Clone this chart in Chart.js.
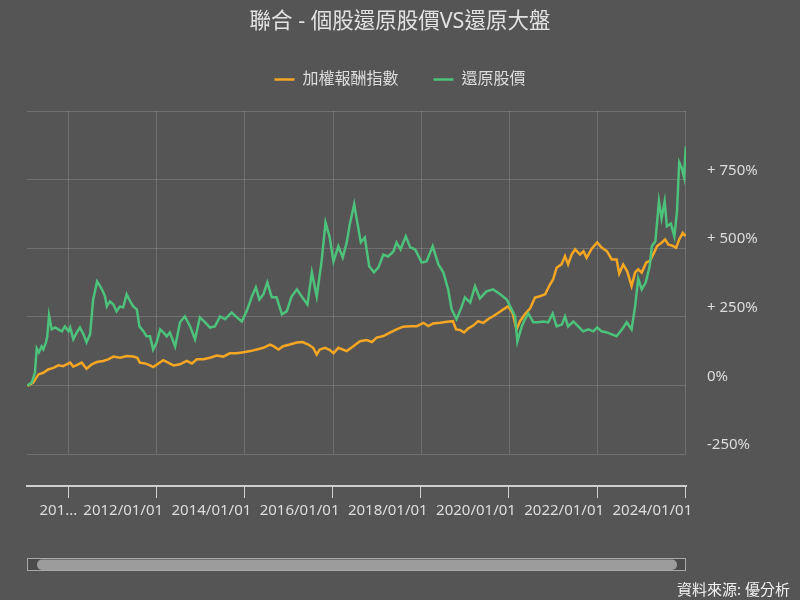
<!DOCTYPE html>
<html>
<head>
<meta charset="utf-8">
<script src="https://cdn.jsdelivr.net/npm/chart.js@4.4.1/dist/chart.umd.min.js"></script>
<style>
  html, body { margin: 0; padding: 0; background: #555555; }
  #wrap { width: 800px; height: 600px; }
</style>
</head>
<body>
<div id="wrap"><canvas id="c" width="800" height="600"></canvas></div>
<script>
const chartTitle = '聯合 - 個股還原股價VS還原大盤';
const seriesNames = ['加權報酬指數', '還原股價'];
const sourceText = '資料來源: 優分析';

// 加權報酬指數 (market total-return index), % change
const indexYears = [2009.08,2009.21,2009.33,2009.44,2009.55,2009.67,2009.78,2009.89,
  2010.05,2010.12,2010.23,2010.31,2010.42,2010.54,2010.65,2010.80,2010.91,
  2011.03,2011.18,2011.33,2011.48,2011.57,2011.63,2011.75,2011.86,2011.93,
  2012.05,2012.16,2012.27,2012.39,2012.54,2012.69,2012.81,2012.92,
  2013.07,2013.22,2013.37,2013.52,2013.67,2013.83,2013.98,
  2014.13,2014.28,2014.43,2014.58,2014.66,2014.77,2014.88,
  2015.03,2015.19,2015.32,2015.45,2015.56,2015.64,2015.71,2015.83,2015.94,
  2016.02,2016.13,2016.32,2016.47,2016.62,2016.77,2016.89,
  2017.00,2017.15,2017.30,2017.45,2017.60,2017.76,2017.91,
  2018.06,2018.17,2018.28,2018.44,2018.59,2018.73,2018.80,2018.89,2018.98,
  2019.08,2019.19,2019.30,2019.42,2019.53,2019.64,2019.76,2019.87,2019.98,
  2020.08,2020.17,2020.25,2020.36,2020.48,2020.59,2020.70,2020.82,2020.91,
  2021.00,2021.08,2021.19,2021.27,2021.34,2021.42,2021.50,2021.61,2021.69,2021.76,2021.88,
  2022.00,2022.10,2022.22,2022.33,2022.44,2022.50,2022.59,2022.68,2022.78,2022.86,2022.93,
  2023.01,2023.11,2023.20,2023.29,2023.36,2023.46,2023.54,2023.61,2023.69,2023.79,2023.86,2023.94,
  2024.01];
const indexValues = [-2,10,40,46,58,64,73,70,
  83,68,77,83,61,77,85,89,95,
  105,101,107,105,101,83,80,73,67,
  80,92,83,73,77,89,80,95,
  95,101,109,105,117,117,121,
  125,131,137,149,143,131,143,
  149,156,158,149,137,113,131,137,129,
  117,137,125,143,161,165,158,
  174,180,192,204,214,216,216,
  228,216,226,228,232,234,204,202,193,
  208,218,234,228,242,252,265,277,288,
  265,204,234,259,281,320,325,332,362,
  386,429,441,471,441,477,496,477,489,465,499,
  521,502,489,459,459,408,441,416,362,412,423,
  411,447,455,484,508,520,532,514,510,502,532,556,
  544];

// 還原股價 (adjusted stock price), % change
const stockYears = [2009.08,2009.18,2009.25,2009.29,2009.34,2009.40,2009.44,2009.50,2009.53,2009.57,2009.63,2009.71,2009.78,2009.86,2009.93,
  2010.01,2010.05,2010.12,2010.20,2010.27,2010.35,2010.42,2010.50,2010.57,2010.66,2010.73,2010.79,2010.84,2010.88,2010.95,
  2011.03,2011.10,2011.18,2011.25,2011.33,2011.41,2011.48,2011.56,2011.62,2011.71,2011.78,2011.86,2011.93,
  2012.01,2012.09,2012.16,2012.24,2012.31,2012.43,2012.54,2012.65,2012.77,2012.88,2012.99,
  2013.11,2013.22,2013.33,2013.45,2013.56,2013.71,2013.83,2013.94,
  2014.05,2014.17,2014.26,2014.34,2014.43,2014.52,2014.62,2014.73,2014.85,2014.96,
  2015.07,2015.19,2015.30,2015.43,2015.53,2015.64,2015.75,2015.84,2015.93,
  2016.02,2016.13,2016.23,2016.32,2016.39,2016.49,2016.56,2016.64,2016.73,2016.83,2016.94,
  2017.04,2017.15,2017.26,2017.38,2017.45,2017.54,2017.66,2017.76,2017.87,
  2018.02,2018.13,2018.27,2018.40,2018.51,2018.62,2018.70,2018.81,2018.93,
  2019.00,2019.12,2019.23,2019.34,2019.49,2019.64,2019.80,2019.95,
  2020.06,2020.14,2020.19,2020.29,2020.36,2020.44,2020.55,2020.66,2020.78,2020.89,2020.99,
  2021.08,2021.20,2021.27,2021.34,2021.46,2021.57,2021.68,2021.80,2021.91,
  2022.00,2022.10,2022.22,2022.33,2022.44,2022.56,2022.67,2022.78,2022.86,2022.93,
  2023.01,2023.10,2023.19,2023.24,2023.32,2023.40,2023.46,2023.53,2023.58,2023.67,2023.75,2023.81,2023.86,2023.92,2023.97,
  2024.01];
const stockValues = [0,11,47,135,120,142,131,157,179,255,204,211,204,197,215,
  197,211,168,193,211,186,157,186,313,379,361,343,324,288,306,
  295,270,288,284,332,306,288,277,215,197,179,179,131,
  157,204,193,179,193,142,230,251,215,168,248,
  230,211,215,251,241,266,248,233,
  270,324,357,313,332,375,321,321,259,270,
  324,350,324,295,412,324,452,594,543,
  452,507,466,521,587,660,594,521,539,434,412,
  430,477,470,488,521,496,543,503,496,
  448,452,507,441,412,350,277,241,288,
  321,302,361,317,343,350,332,313,
  277,251,160,215,241,262,230,230,233,230,262,
  215,222,251,215,233,215,197,204,197,
  211,197,193,186,179,204,230,204,288,390,
  350,375,434,507,525,671,609,671,580,590,543,634,813,791,758,
  871];

const xTickYears = [2010, 2012, 2014, 2016, 2018, 2020, 2022, 2024];
const xTickLabels = ['201...', '2012/01/01', '2014/01/01', '2016/01/01', '2018/01/01', '2020/01/01', '2022/01/01', '2024/01/01'];
const yTickValues = [-250, 0, 250, 500, 750, 1000];
const yTickLabels = ['-250%', '0%', '+ 250%', '+ 500%', '+ 750%', ''];

const toPoints = (xs, ys) => xs.map((x, i) => ({ x: x, y: ys[i] }));

Chart.defaults.font.family = "'Noto Sans', 'Noto Sans CJK TC', sans-serif";
Chart.defaults.color = '#dddddd';

const GRID = 'rgba(255,255,255,0.16)';

const bgPlugin = {
  id: 'bg',
  beforeDraw(chart) {
    const ctx = chart.ctx;
    ctx.save();
    ctx.fillStyle = '#555555';
    ctx.fillRect(0, 0, chart.width, chart.height);
    ctx.restore();
  }
};

const vGridPlugin = {
  id: 'vgrid',
  beforeDatasetsDraw(chart) {
    const ctx = chart.ctx;
    const xs = chart.scales.x, ys = chart.scales.y;
    const top = ys.getPixelForValue(yTickValues[yTickValues.length - 1]);
    const bottom = ys.getPixelForValue(yTickValues[0]);
    ctx.save();
    ctx.strokeStyle = GRID;
    ctx.lineWidth = 1;
    xTickYears.forEach(v => {
      const px = Math.round(xs.getPixelForValue(v)) + 0.5;
      ctx.beginPath();
      ctx.moveTo(px, top);
      ctx.lineTo(px, bottom);
      ctx.stroke();
    });
    ctx.restore();
  }
};

const scrollPlugin = {
  id: 'scrollbar',
  afterDraw(chart) {
    const ctx = chart.ctx;
    const { left, right } = chart.chartArea;
    ctx.save();
    ctx.fillStyle = '#4b4b4b';
    ctx.fillRect(left, 558, right - left, 13);
    ctx.strokeStyle = '#a8a8a8';
    ctx.lineWidth = 1;
    ctx.strokeRect(left + 0.5, 558.5, right - left - 1, 12);
    ctx.fillStyle = '#9c9c9c';
    ctx.beginPath();
    ctx.roundRect(left + 10, 559.5, right - left - 19, 10.5, 5);
    ctx.fill();
    ctx.restore();
  }
};

new Chart(document.getElementById('c'), {
  type: 'line',
  data: {
    datasets: [
      {
        label: seriesNames[0],
        data: toPoints(indexYears, indexValues),
        borderColor: '#f5a623',
        backgroundColor: '#f5a623',
        borderWidth: 2.5,
        pointRadius: 0,
        tension: 0,
        order: 1
      },
      {
        label: seriesNames[1],
        data: toPoints(stockYears, stockValues),
        borderColor: '#4cc27a',
        backgroundColor: '#4cc27a',
        borderWidth: 2.5,
        pointRadius: 0,
        tension: 0,
        order: 0
      }
    ]
  },
  options: {
    responsive: false,
    devicePixelRatio: 1,
    animation: false,
    layout: { padding: { left: 10, right: 10, top: 0, bottom: 0 } },
    plugins: {
      title: {
        display: true,
        text: chartTitle,
        color: '#e2e2e2',
        font: { size: 21.5, weight: 'normal' },
        padding: { top: 9, bottom: 1.7 }
      },
      subtitle: {
        display: true,
        text: sourceText,
        position: 'bottom',
        align: 'end',
        color: '#f2f2f2',
        font: { size: 15, weight: 'normal' },
        padding: { top: 58, bottom: 0 }
      },
      legend: {
        display: true,
        position: 'top',
        labels: {
          usePointStyle: true,
          pointStyle: 'line',
          pointStyleWidth: 20,
          boxWidth: 20,
          padding: 35,
          color: '#dddddd',
          font: { size: 16 },
          sort: (a, b) => a.datasetIndex - b.datasetIndex
        }
      },
      tooltip: { enabled: false }
    },
    scales: {
      x: {
        type: 'linear',
        min: 2009.07,
        max: 2024.014,
        afterBuildTicks(scale) { scale.ticks = xTickYears.map(v => ({ value: v })); },
        ticks: {
          autoSkip: false,
          maxRotation: 0,
          minRotation: 0,
          padding: 4,
          labelOffset: -33,
          color: '#dddddd',
          font: { size: 15 },
          callback(value, index) {
            const label = xTickLabels[xTickYears.indexOf(value)];
            return index === 0 ? '\u00a0'.repeat(12) + label : label;
          }
        },
        grid: {
          display: true,
          drawOnChartArea: false,
          drawTicks: true,
          tickLength: 12,
          tickColor: '#cfcfcf',
          tickWidth: 1
        },
        border: { display: true, color: '#cfcfcf', width: 2 }
      },
      y: {
        type: 'linear',
        position: 'right',
        min: -366.6,
        max: 1049.2,
        afterBuildTicks(scale) { scale.ticks = yTickValues.map(v => ({ value: v })); },
        afterFit(scale) { scale.width = 104; },
        ticks: {
          padding: 21,
          labelOffset: -9,
          color: '#dddddd',
          font: { size: 15 },
          callback(value) { return yTickLabels[yTickValues.indexOf(value)]; }
        },
        grid: { color: GRID, drawTicks: false, lineWidth: 1 },
        border: { display: false }
      },
      yl: {
        type: 'linear',
        position: 'left',
        display: true,
        afterFit(scale) { scale.width = 17; },
        ticks: { display: false },
        grid: { display: false },
        border: { display: false }
      }
    }
  },
  plugins: [bgPlugin, vGridPlugin, scrollPlugin]
});
</script>
</body>
</html>
